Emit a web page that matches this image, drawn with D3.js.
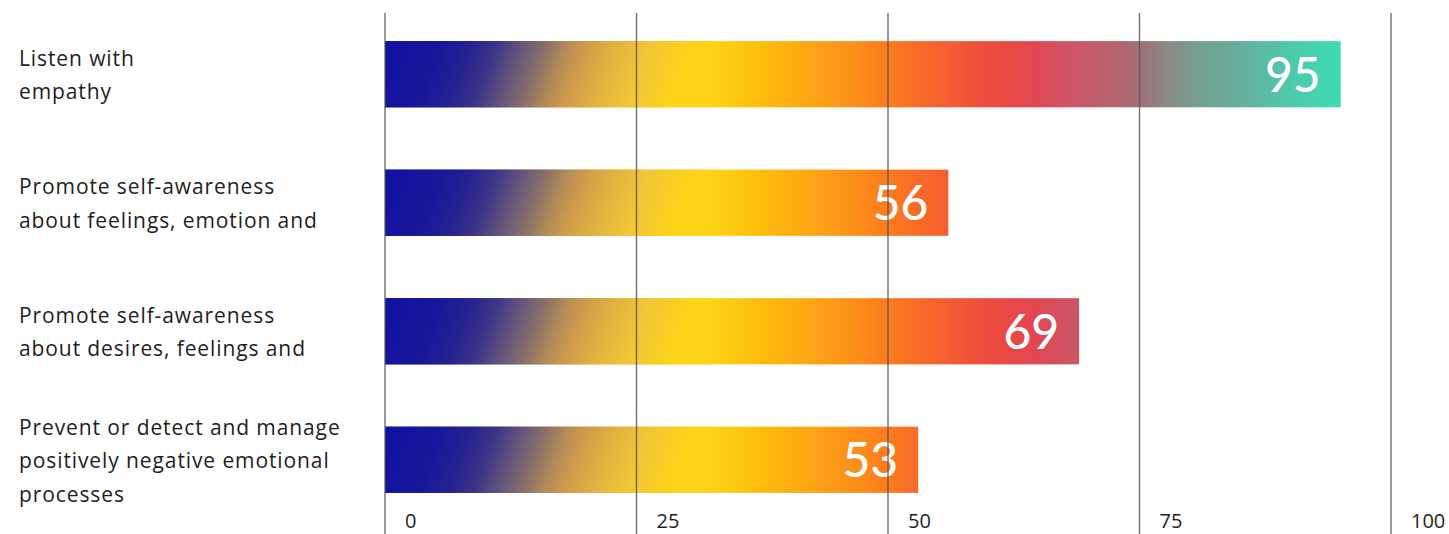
<!DOCTYPE html>
<html>
<head>
<meta charset="utf-8">
<script src="https://cdn.jsdelivr.net/npm/d3@7"></script>
<style>
  html, body { margin: 0; padding: 0; background: #fff; }
  svg { display: block; font-family: "Open Sans", Lato, sans-serif; }
</style>
</head>
<body>
<svg id="chart" width="1449" height="534"></svg>
<script>
// Category labels (each entry is a list of wrapped lines)
const categories = [
  ["Listen with", "empathy"],
  ["Promote self-awareness", "about feelings, emotion and"],
  ["Promote self-awareness", "about desires, feelings and"],
  ["Prevent or detect and manage", "positively negative emotional", "processes"]
];
const values = [95, 56, 69, 53];
const tickValues = [0, 25, 50, 75, 100];

const W = 1449, H = 534;
const svg = d3.select("#chart");

const x = d3.scaleLinear().domain([0, 100]).range([385, 1391]);
const y = d3.scaleBand()
  .domain(d3.range(categories.length))
  .range([0, 534])
  .paddingInner(0.485)
  .paddingOuter(0.32);

const defs = svg.append("defs");
const span = x(100) - x(0);

// Colour ramp along the bars (stop positions in px from the axis origin)
const blendEnd = 300;
const rampStops = [
  [0, "#1212a0"], [45, "#18179a"], [75, "#252290"], [100, "#3c3488"], [130, "#6a5a78"],
  [150, "#8a7068"], [170, "#b08a58"], [190, "#d09a4c"], [217, "#e0b040"], [250, "#f0c438"],
  [275, "#f8cc28"], [300, "#fdd418"], [335, "#fdd014"], [375, "#fdbd0c"], [425, "#fda514"],
  [475, "#fd8c1a"], [499, "#fb7d1c"], [535, "#f86a28"], [575, "#f25836"], [605, "#ee4a3e"],
  [650, "#e14652"], [695, "#c9586a"], [735, "#b46470"], [756, "#a0707a"], [780, "#8c8884"],
  [815, "#74a090"], [865, "#62b3a0"], [905, "#4fc8ac"], [945, "#40d8b2"], [1006, "#38e0b5"]
];
defs.append("linearGradient")
  .attr("id", "barGrad")
  .attr("gradientUnits", "userSpaceOnUse")
  .attr("x1", x(0)).attr("x2", x(100)).attr("y1", 0).attr("y2", 0)
  .selectAll("stop").data(rampStops).join("stop")
  .attr("offset", d => d[0] / span).attr("stop-color", d => d[1]);

// Slanted blue → yellow blend laid over the start of each bar
const blendStops = rampStops.filter(d => d[0] <= blendEnd);
const ux = 0.94, uy = 0.34;            // unit direction of the slanted blend
const bw = y.bandwidth();
const blendLen = blendEnd * ux + bw / 2 * uy;
const blendW = blendEnd + bw * uy / ux + 2; // past the point where the top edge is fully yellow
values.forEach((v, i) => {
  const top = y(i);
  defs.append("linearGradient")
    .attr("id", "blend" + i)
    .attr("gradientUnits", "userSpaceOnUse")
    .attr("x1", x(0)).attr("y1", top)
    .attr("x2", x(0) + ux * blendLen).attr("y2", top + uy * blendLen)
    .selectAll("stop").data(blendStops).join("stop")
    .attr("offset", d => (d[0] * ux + bw / 2 * uy) / blendLen)
    .attr("stop-color", d => d[1]);
});

// Bars
const bars = svg.append("g");
bars.selectAll("rect.bar").data(values).join("rect")
  .attr("class", "bar")
  .attr("x", x(0))
  .attr("y", (d, i) => y(i))
  .attr("width", d => x(d) - x(0))
  .attr("height", bw)
  .attr("fill", "url(#barGrad)");
bars.selectAll("rect.blend").data(values).join("rect")
  .attr("class", "blend")
  .attr("x", x(0))
  .attr("y", (d, i) => y(i))
  .attr("width", d => Math.min(x(d) - x(0), blendW))
  .attr("height", bw)
  .attr("fill", (d, i) => `url(#blend${i})`);

// Value labels inside bar ends
svg.append("g").selectAll("text").data(values).join("text")
  .attr("x", d => x(d) - 20)
  .attr("y", (d, i) => y(i) + bw / 2)
  .attr("dy", "0.36em")
  .attr("text-anchor", "end")
  .attr("fill", "#fff")
  .attr("font-family", "Lato, sans-serif")
  .attr("font-weight", 500)
  .attr("font-size", 48)
  .text(d => d);

// Vertical grid lines drawn over the bars, with tick labels at the bottom
const grid = svg.append("g");
grid.selectAll("line").data(tickValues).join("line")
  .attr("x1", d => x(d)).attr("x2", d => x(d))
  .attr("y1", 13).attr("y2", H)
  .attr("stroke", "#555")
  .attr("stroke-opacity", 0.85)
  .attr("stroke-width", 1.4);
grid.selectAll("text").data(tickValues).join("text")
  .attr("x", d => x(d) + 20)
  .attr("y", 528)
  .attr("fill", "#1e1e1e")
  .attr("font-size", 20)
  .attr("font-weight", 500)
  .text(d => d);

// Category labels, vertically centred on each bar
const lineH = 33.5;
const lab = svg.append("g").selectAll("text").data(categories).join("text")
  .attr("x", 19)
  .attr("fill", "#1e1e1e")
  .attr("font-size", 21)
  .attr("font-weight", 500)
  .attr("letter-spacing", 0.9);
lab.each(function(lines, i) {
  const cy = y(i) + bw / 2 + 1;
  const top = cy - (lines.length - 1) * lineH / 2;
  d3.select(this).selectAll("tspan").data(lines).join("tspan")
    .attr("x", 19)
    .attr("y", (d, j) => top + j * lineH)
    .attr("dy", "0.35em")
    .text(d => d);
});
</script>
</body>
</html>
